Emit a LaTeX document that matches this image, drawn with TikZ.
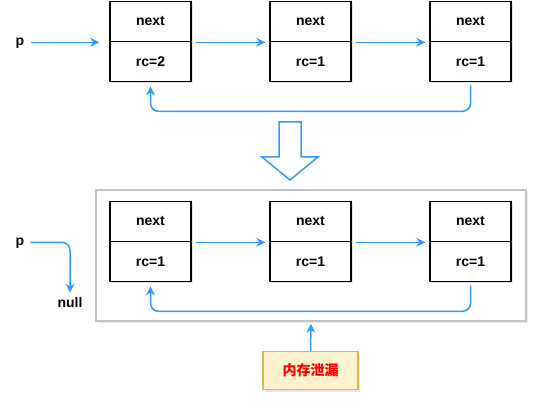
\documentclass[tikz,border=0pt]{standalone}
\usepackage{fontspec}
\setmainfont{Liberation Sans}
\newfontfamily\cjk{Noto Sans CJK SC}
\usepackage{xcolor}
\usetikzlibrary{arrows.meta, shadows}

\definecolor{linkblue}{HTML}{3399FF}
\definecolor{noteyellow}{HTML}{FFF2CC}
\definecolor{noteedge}{HTML}{D6B656}
\definecolor{framegray}{HTML}{C4C4C4}

\tikzset{
  cell/.style={draw=black, line width=1.6pt, fill=white, minimum width=81pt, minimum height=40pt,
    font=\fontsize{14}{16}\selectfont\bfseries, inner sep=0pt,
    drop shadow={opacity=0.2, shadow xshift=2pt, shadow yshift=-2pt}},
  link/.style={draw=linkblue, line width=1.5pt, -{Stealth[length=9pt,width=9pt]}},
  label/.style={font=\fontsize{14}{16}\selectfont\bfseries, inner sep=1pt},
}

\begin{document}
\begin{tikzpicture}[x=1pt, y=-1pt]
    \useasboundingbox (0,0) rectangle (538,403);

    % Before: list with rc=2 on the head
    \node[cell] (n1) at (150.5,21.5) {next};
    \node[cell] (r1) at (150.5,61.5) {rc=2};
    \node[cell] (n2) at (310.5,21.5) {next};
    \node[cell] (r2) at (310.5,61.5) {rc=1};
    \node[cell] (n3) at (470.5,21.5) {next};
    \node[cell] (r3) at (470.5,61.5) {rc=1};
    \node[label] (p1) at (20,43) {p};

    \draw[link] ([xshift=6pt]p1.east |- n1.south west) -- ([xshift=-10pt]n1.south west);
    \draw[link] ([xshift=4pt]n1.south east) -- ([xshift=-4pt]n2.south west);
    \draw[link] ([xshift=4pt]n2.south east) -- ([xshift=-4pt]n3.south west);
    \draw[link, rounded corners=8pt] ([yshift=-3pt]r3.south) -- ++(0,26) -| ([yshift=-4pt]r1.south);

    % Big hollow arrow
    \draw[linkblue, line width=1.5pt, fill=white, line join=miter]
      (279,122) -- (301,122) -- (301,157) -- (318,157) -- (290,180)
      -- (262,157) -- (279,157) -- cycle;

    % After: p set to null, cycle left behind
    \node[draw=framegray, line width=1.5pt, fill=white, minimum width=430pt, minimum height=131pt,
      drop shadow={opacity=0.15, shadow xshift=2pt, shadow yshift=-2pt}] (frame) at (311,255.5) {};

    \node[cell] (m1) at (150.5,221.5) {next};
    \node[cell] (s1) at (150.5,261.5) {rc=1};
    \node[cell] (m2) at (310.5,221.5) {next};
    \node[cell] (s2) at (310.5,261.5) {rc=1};
    \node[cell] (m3) at (470.5,221.5) {next};
    \node[cell] (s3) at (470.5,261.5) {rc=1};
    \node[label] (p2) at (20,243) {p};
    \node[label] (null) at (70,302) {null};

    \draw[link, rounded corners=8pt] ([xshift=5pt]p2.east |- m1.south west) -| ([yshift=3pt]null.north);
    \draw[link] ([xshift=4pt]m1.south east) -- ([xshift=-4pt]m2.south west);
    \draw[link] ([xshift=4pt]m2.south east) -- ([xshift=-4pt]m3.south west);
    \draw[link, rounded corners=8pt] ([yshift=-3pt]s3.south) -- ++(0,26) -| ([yshift=-4pt]s1.south);

    % Leak note
    \node[draw=noteedge, line width=1.5pt, fill=noteyellow, minimum width=95pt, minimum height=38pt,
      text=red, font=\cjk\fontsize{14}{16}\selectfont\bfseries,
      drop shadow={opacity=0.2, shadow xshift=2pt, shadow yshift=-2pt}] (leak) at (310.5,370.5) {内存泄漏};
    \draw[link] (leak.north) -- ([yshift=-2pt]frame.south);
\end{tikzpicture}
\end{document}
